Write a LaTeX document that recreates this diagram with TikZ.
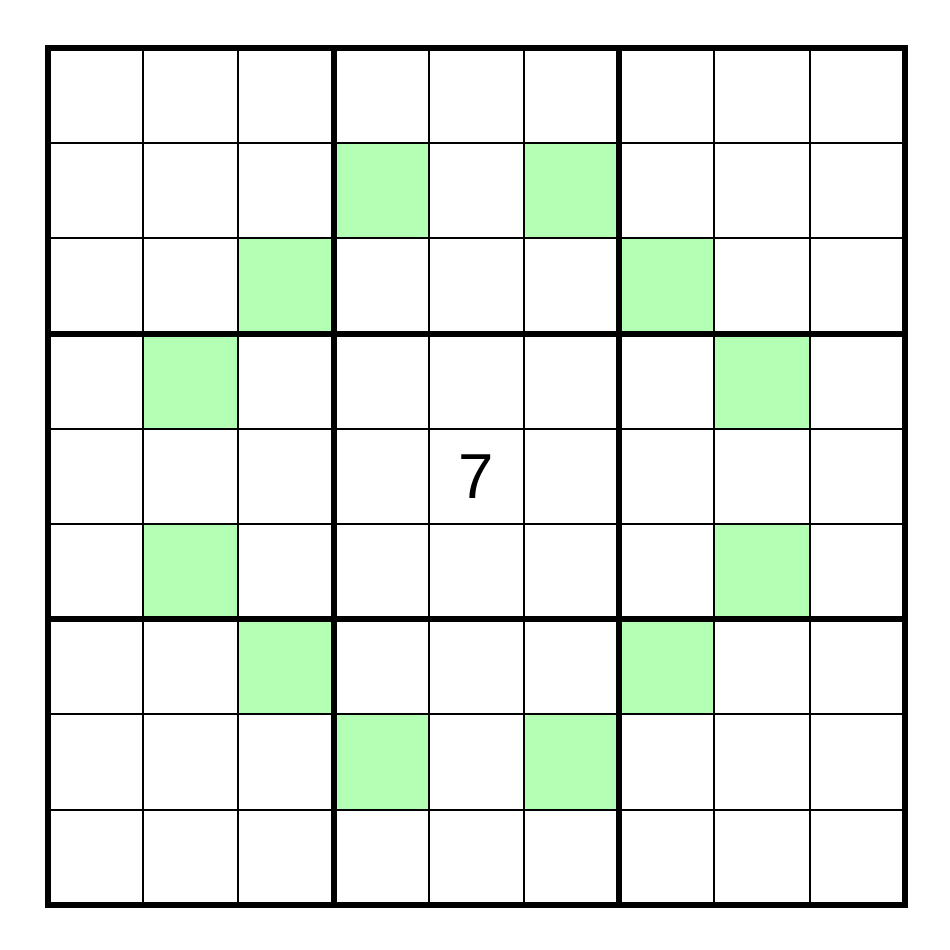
\documentclass[tikz,border=0pt]{standalone}
\usepackage{fontspec}
\setmainfont{Liberation Sans}
\usepackage{tikz}
\usetikzlibrary{positioning}
\definecolor{knightgreen}{HTML}{B3FFB3}

\begin{document}
\begin{tikzpicture}[x=1cm, y=1cm, font=\fontsize{19}{22}\selectfont]
    \tikzstyle{cellline}=[draw=black, line width=0.6pt]
    \tikzstyle{boxline}=[draw=black, line width=1.8pt, line cap=rect]
    \tikzstyle{knight}=[fill=knightgreen]
    \tikzstyle{digit}=[inner sep=0pt, anchor=center]

    \useasboundingbox (-0.504,-0.473) rectangle (9.475,9.504);

    % knight moves from the centre cell
    \foreach \c/\r in {3/1, 5/1, 2/2, 6/2, 1/3, 7/3, 1/5, 7/5, 2/6, 6/6, 3/7, 5/7}
        \fill[knight] (\c, 8-\r) rectangle ++(1,1);

    \draw[cellline] (0,0) grid (9,9);
    \foreach \i in {0,3,6,9} {
        \draw[boxline] (\i,0) -- (\i,9);
        \draw[boxline] (0,\i) -- (9,\i);
    }

    \node[digit] (seven) at (4.5,4.5) {7};
\end{tikzpicture}
\end{document}
